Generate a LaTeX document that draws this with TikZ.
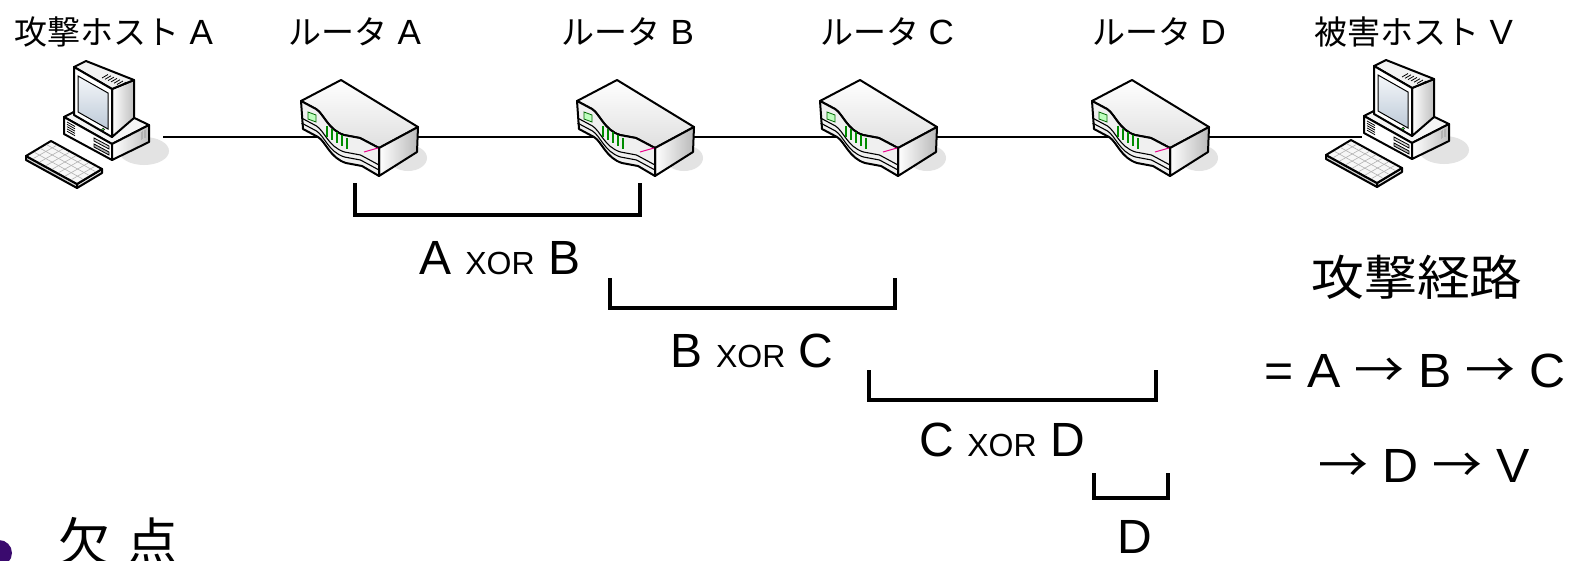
\documentclass[tikz,border=0pt]{standalone}
\usepackage{graphicx}
\usepackage{fontspec}
\setmainfont{Liberation Sans}
\newfontfamily\jp{Noto Sans CJK JP}
\definecolor{bulletpurple}{RGB}{58,10,110}
\definecolor{screenlo}{RGB}{190,202,216}
\definecolor{screenhi}{RGB}{244,247,250}
\newcommand{\Jt}[1]{{\jp\fontsize{33}{36}\selectfont #1}}
\newcommand{\Xor}{{\fontsize{32}{34}\selectfont XOR}}
\newcommand{\Ar}{{\jp →}}
\tikzset{
  outline/.style={draw=black, line width=2pt, line join=round},
  fineline/.style={draw=black, line width=0.8pt},
  link/.style={draw=black, line width=1.6pt},
  brk/.style={draw=black, line width=4.5pt, line join=miter, line cap=butt},
  toplab/.style={anchor=base, inner sep=0pt, font=\fontsize{35}{38}\selectfont},
  biglab/.style={anchor=base, inner sep=0pt, font=\fontsize{48}{50}\selectfont},
  router/.pic={
    \fill[gray!22] (108,78) ellipse [x radius=19, y radius=13];
    % top face
    \path[outline, top color=white, bottom color=gray!25]
      (1,21) -- (41,0) -- (118,47) -- (79,68) -- (60,58) -- (44,55)
      .. controls (28,50) and (24,34) .. (16,29) -- cycle;
    % right face
    \path[outline, left color=white, right color=gray!55]
      (79,68) -- (118,47) -- (117,72) -- (79,96) -- cycle;
    % front band
    \path[outline, fill=gray!12]
      (1,21) -- (16,29) .. controls (24,34) and (28,50) .. (44,55) -- (60,58) -- (79,68)
      -- (79,96) -- (62,86) -- (46,83) .. controls (30,78) and (26,62) .. (18,57) -- (3,49) -- cycle;
    \foreach \s in {17,22}{
      \draw[fineline, line width=1.1pt, shift={(0.5,\s)}]
        (1,21) -- (16,29) .. controls (24,34) and (28,50) .. (44,55) -- (60,58) -- (78.5,68);
    }
    \filldraw[fill=green!25, draw=green!40!black, line width=0.8pt]
      (8,32) -- (16,35) -- (16,42) -- (8,39) -- cycle;
    \foreach \k in {0,...,4}{
      \draw[green!55!black, line width=1.3pt] ({27+5*\k},{46+3*\k}) -- ({27+5*\k},{57+3*\k});
    }
    \draw[magenta, line width=1pt] (64,72) -- (78,68);
  },
  host/.pic={
    \fill[gray!22] (130,93) ellipse [x radius=25, y radius=14];
    % case
    \path[outline, fill=gray!8] (50,59) -- (83,42) -- (135,67) -- (98,86) -- cycle;
    \path[outline, fill=white] (50,59) -- (98,86) -- (98,102) -- (50,76) -- cycle;
    \path[outline, left color=white, right color=gray!50] (98,86) -- (135,67) -- (135,84) -- (98,102) -- cycle;
    \foreach \k in {0,...,4}{ \draw[fineline] (53,{64+2.3*\k}) -- (61,{68.5+2.3*\k}); }
    \draw[fineline, fill=gray!30] (80,80) -- (95,88) -- (95,91) -- (80,83) -- cycle;
    \draw[fineline, fill=gray!60] (80,86) -- (95,94) -- (95,97) -- (80,89) -- cycle;
    \foreach \k in {0,...,3}{ \draw[gray!60, line width=0.8pt] ({127+1.6*\k},{74-0.8*\k}) -- ++(0,8); }
    % monitor
    \path[outline, left color=white, right color=gray!50] (98,31) -- (120,22) -- (120,60) -- (98,79) -- cycle;
    \path[outline, fill=gray!10] (60,9) -- (72,3) -- (120,22) -- (98,31) -- cycle;
    \foreach \k in {0,...,6}{ \draw[fineline] ({88+3*\k},{20+1.3*\k}) -- ++(6,-3.5); }
    \path[outline, fill=white] (60,9) -- (98,31) -- (98,79) -- (60,57) -- cycle;
    \path[draw=black, line width=1pt, top color=screenhi, bottom color=screenlo]
      (64,18) -- (94,35) -- (94,71) -- (64,54) -- cycle;
    \filldraw[fill=green!60, draw=black, line width=0.5pt] (89,71.5) circle [radius=1.4];
    % keyboard
    \path[outline, fill=gray!35] (12,98) -- (63,126) -- (63,130) -- (12,102) -- cycle;
    \path[outline, fill=gray!25] (63,126) -- (88,111) -- (88,115) -- (63,130) -- cycle;
    \path[outline, fill=gray!6] (12,98) -- (37,83) -- (88,111) -- (63,126) -- cycle;
    \foreach \t in {0.25,0.5,0.75}{
      \draw[gray!60, line width=0.6pt] ($(14,98)+\t*(25,-15)$) -- ($(62,124.5)+\t*(25,-15)$);
    }
    \foreach \s in {0.125,0.25,...,0.9}{
      \draw[gray!60, line width=0.6pt] ($(13,97)+\s*(51,28)$) -- ($(36,84)+\s*(51,28)$);
    }
  }
}
\usetikzlibrary{calc}
\begin{document}
\begin{tikzpicture}[x=1pt,y=-1pt]
\useasboundingbox (0,0) rectangle (1580,560);
\clip (0,0) rectangle (1580,560);
\fill[white] (0,0) rectangle (1580,560);

% connection points
\coordinate (hA) at (163,137);
\coordinate (rA) at (360,137);
\coordinate (rB) at (636,137);
\coordinate (rC) at (879,137);
\coordinate (rD) at (1151,137);
\coordinate (hV) at (1362,137);
\draw[link] (hA) -- (rA) -- (rB) -- (rC) -- (rD) -- (hV);

% icons
\pic (hostA) at (14,58) {host};
\pic (routerA) at (300,80) {router};
\pic (routerB) at (576,80) {router};
\pic (routerC) at (819,80) {router};
\pic (routerD) at (1091,80) {router};
\pic (hostV) at (1314,57) {host};

% top labels
\node[toplab] (lhA) at (114,44) {\Jt{攻撃ホスト} A};
\node[toplab] (lrA) at (355,44) {\Jt{ルータ} A};
\node[toplab] (lrB) at (628,44) {\Jt{ルータ} B};
\node[toplab] (lrC) at (887,44) {\Jt{ルータ} C};
\node[toplab] (lrD) at (1159,44) {\Jt{ルータ} D};
\node[toplab] (lhV) at (1414,44) {\Jt{被害ホスト} V};

% brackets
\draw[brk] (355,183) -- (355,215) -- (640,215) -- (640,183);
\draw[brk] (610,278) -- (610,308) -- (895,308) -- (895,278);
\draw[brk] (869,370) -- (869,400) -- (1156,400) -- (1156,370);
\draw[brk] (1094,473) -- (1094,498) -- (1168,498) -- (1168,473);

% bracket labels
\node[biglab] (xab) at (500,274) {A \Xor{} B};
\node[biglab] (xbc) at (752,367) {B \Xor{} C};
\node[biglab] (xcd) at (1002,456) {C \Xor{} D};
\node[biglab] (xd) at (1135,553) {D};

% attack path
\node[anchor=base, xscale=1.1, inner sep=0pt, font=\jp\fontsize{48}{50}\selectfont] (ptitle) at (1417,295) {攻撃経路};
\node[biglab, xscale=1.04] (pline1) at (1415,387) {= A \Ar{} B \Ar{} C};
\node[biglab, xscale=1.04] (pline2) at (1424,482) {\Ar{} D \Ar{} V};

% bullet
\node[circle, fill=bulletpurple, minimum size=26pt, inner sep=0pt] (bul) at (-1,553) {};
\node[anchor=base west, inner sep=0pt, font=\jp\fontsize{52}{52}\selectfont] (ketten) at (58,561) {欠\kern16pt 点};
\end{tikzpicture}
\end{document}
